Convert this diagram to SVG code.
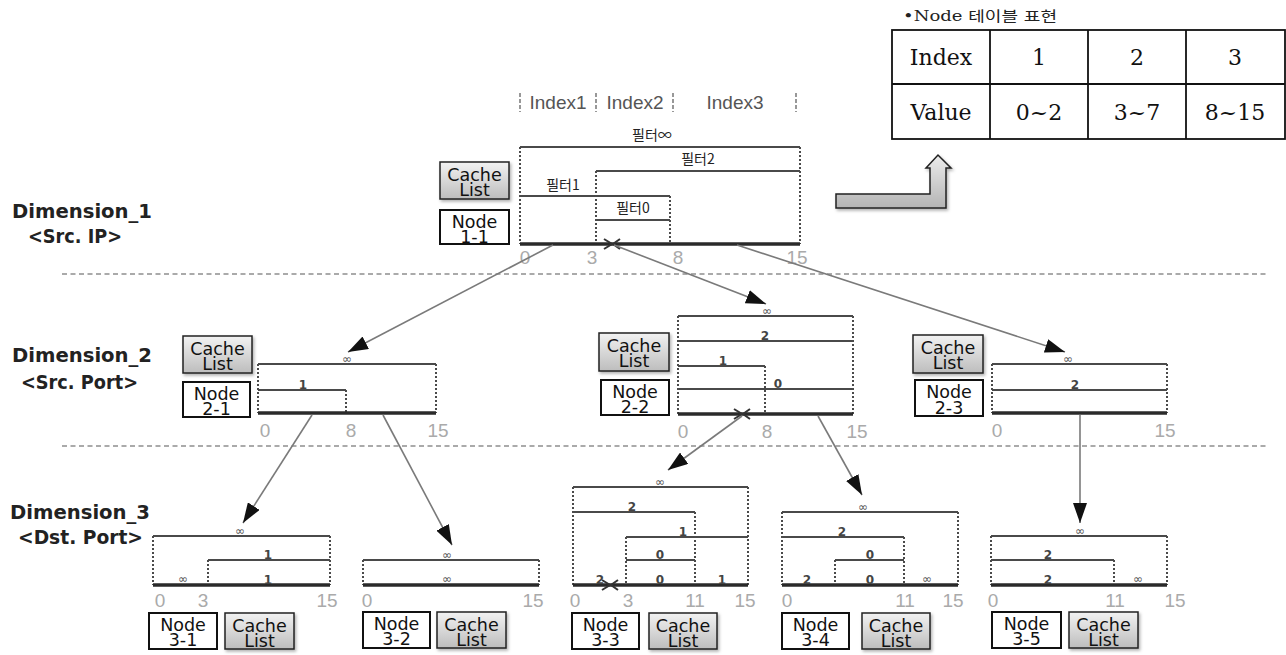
<svg xmlns="http://www.w3.org/2000/svg" width="1286" height="655" viewBox="0 0 1286 655">
<defs>
<linearGradient id="gc" x1="0" y1="0" x2="0" y2="1"><stop offset="0" stop-color="#f2f2f2"/><stop offset="1" stop-color="#bdbdbd"/></linearGradient>
<linearGradient id="ga" x1="0" y1="0" x2="0" y2="1"><stop offset="0" stop-color="#ececec"/><stop offset="1" stop-color="#b4b4b4"/></linearGradient>
<filter id="sh" x="-20%" y="-20%" width="140%" height="160%"><feDropShadow dx="1.5" dy="2" stdDeviation="1.5" flood-color="#000" flood-opacity="0.3"/></filter>
<marker id="ah" viewBox="0 0 20 14" refX="20" refY="7" markerWidth="20" markerHeight="14" markerUnits="userSpaceOnUse" orient="auto"><path d="M0,0 L20,7 L0,14 z" fill="#111"/></marker>
<style>
.hl{stroke:#4a4a4a;stroke-width:2;fill:none}
.base{stroke:#2a2a2a;stroke-width:3.5;fill:none}
.dot{stroke:#4a4a4a;stroke-width:2;stroke-dasharray:2 2;fill:none}
.ax{font-family:"Liberation Sans",Arial,sans-serif;font-size:19px;fill:#aaa;text-anchor:middle}
.lb{font-family:"DejaVu Sans",sans-serif;font-size:12px;fill:#444;text-anchor:middle;font-weight:bold}
.inf{font-family:"DejaVu Sans",sans-serif;font-size:12px;fill:#555;text-anchor:middle}
.kr{font-family:"Noto Sans CJK KR","Noto Sans",sans-serif;font-size:14px;fill:#222;text-anchor:middle}
.cache{fill:url(#gc);stroke:#222;stroke-width:1.5;filter:url(#sh)}
.node{fill:#fff;stroke:#111;stroke-width:2}
.bt{font-family:"DejaVu Sans",sans-serif;font-size:17.5px;fill:#111;text-anchor:middle}
.dim{font-family:"DejaVu Sans",sans-serif;font-size:19px;font-weight:bold;fill:#222}
.idx{font-family:"Liberation Sans",Arial,sans-serif;font-size:19px;fill:#555;text-anchor:middle}
.isep{stroke:#777;stroke-width:1.5;stroke-dasharray:4 2}
.tb{font-family:"DejaVu Serif",serif;font-size:22px;fill:#111;text-anchor:middle}
.tl{stroke:#111;stroke-width:1.8;fill:none}
.sep{stroke:#aaa;stroke-width:2;stroke-dasharray:5 3.5}
.conn{stroke:#7a7a7a;stroke-width:1.6;fill:none;marker-end:url(#ah)}
.xm{stroke:#333;stroke-width:2;fill:none}
</style>
</defs>
<rect width="1286" height="655" fill="#fff"/>

<g id="dimension-labels">
<text class="dim" x="12" y="218" textLength="140" lengthAdjust="spacingAndGlyphs">Dimension_1</text>
<text class="dim" x="28" y="243" textLength="94" lengthAdjust="spacingAndGlyphs">&lt;Src. IP&gt;</text>
<text class="dim" x="12" y="362" textLength="140" lengthAdjust="spacingAndGlyphs">Dimension_2</text>
<text class="dim" x="21" y="389" textLength="117" lengthAdjust="spacingAndGlyphs">&lt;Src. Port&gt;</text>
<text class="dim" x="10" y="519" textLength="140" lengthAdjust="spacingAndGlyphs">Dimension_3</text>
<text class="dim" x="18" y="544" textLength="125" lengthAdjust="spacingAndGlyphs">&lt;Dst. Port&gt;</text>
<line class="sep" x1="62" y1="274" x2="1266" y2="274"/>
<line class="sep" x1="62" y1="446" x2="1266" y2="446"/>
</g>

<g id="table">
<text x="903" y="21" font-family="DejaVu Serif,'Noto Sans CJK KR',serif" font-size="14" fill="#222" textLength="154" lengthAdjust="spacingAndGlyphs">•Node 테이블 표현</text>
<rect class="tl" x="892" y="30" width="393" height="109"/>
<line class="tl" x1="892" y1="84" x2="1285" y2="84"/>
<line class="tl" x1="990" y1="30" x2="990" y2="139"/>
<line class="tl" x1="1088" y1="30" x2="1088" y2="139"/>
<line class="tl" x1="1186" y1="30" x2="1186" y2="139"/>
<text class="tb" x="941" y="65">Index</text>
<text class="tb" x="1039" y="65">1</text>
<text class="tb" x="1137" y="65">2</text>
<text class="tb" x="1235" y="65">3</text>
<text class="tb" x="941" y="120">Value</text>
<text class="tb" x="1039" y="120">0~2</text>
<text class="tb" x="1137" y="120">3~7</text>
<text class="tb" x="1235" y="120">8~15</text>
</g>

<g id="bent-arrow">
<path d="M836,194 L930,194 L930,168 L926,168 L938,155 L951,168 L946,168 L946,208 L836,208 Z" fill="url(#ga)" stroke="#222" stroke-width="1.5" filter="url(#sh)"/>
</g>

<g id="index-header">
<line class="isep" x1="520" y1="93" x2="520" y2="112"/>
<line class="isep" x1="596" y1="93" x2="596" y2="112"/>
<line class="isep" x1="673" y1="93" x2="673" y2="112"/>
<line class="isep" x1="796" y1="93" x2="796" y2="112"/>
<text class="idx" x="558" y="109">Index1</text>
<text class="idx" x="635" y="109">Index2</text>
<text class="idx" x="735" y="109">Index3</text>
</g>

<g id="node1-1">
<rect class="cache" x="440" y="162" width="69" height="37"/>
<text class="bt" x="474.5" y="181">Cache</text><text class="bt" x="474.5" y="196">List</text>
<rect class="node" x="440" y="210" width="69" height="34"/>
<text class="bt" x="474.5" y="228">Node</text><text class="bt" x="474.5" y="243">1-1</text>
<line class="dot" x1="520" y1="147" x2="520" y2="244"/>
<line class="dot" x1="596" y1="171" x2="596" y2="244"/>
<line class="dot" x1="670" y1="196" x2="670" y2="244"/>
<line class="dot" x1="800" y1="147" x2="800" y2="244"/>
<line class="hl" x1="520" y1="147" x2="800" y2="147"/>
<line class="hl" x1="596" y1="171" x2="800" y2="171"/>
<line class="hl" x1="520" y1="196" x2="670" y2="196"/>
<line class="hl" x1="596" y1="220" x2="670" y2="220"/>
<line class="base" x1="520" y1="244" x2="800" y2="244"/>
<text class="kr" x="652" y="140">필터∞</text>
<text class="kr" x="698" y="164">필터2</text>
<text class="kr" x="563" y="190">필터1</text>
<text class="kr" x="633" y="213">필터0</text>
<path class="xm" d="M604,239 L612,244 L604,249 M620,239 L613,244 L620,249"/>
<text class="ax" x="525" y="264">0</text>
<text class="ax" x="592" y="264">3</text>
<text class="ax" x="678" y="264">8</text>
<text class="ax" x="797" y="264">15</text>
</g>

<g id="node2-1">
<rect class="cache" x="183" y="336" width="69" height="37"/>
<text class="bt" x="217.5" y="355">Cache</text><text class="bt" x="217.5" y="370">List</text>
<rect class="node" x="183" y="382" width="67" height="35"/>
<text class="bt" x="216.5" y="400">Node</text><text class="bt" x="216.5" y="415">2-1</text>
<line class="dot" x1="258" y1="364" x2="258" y2="413"/>
<line class="dot" x1="346" y1="390" x2="346" y2="413"/>
<line class="dot" x1="436" y1="364" x2="436" y2="413"/>
<line class="hl" x1="258" y1="364" x2="436" y2="364"/>
<line class="hl" x1="258" y1="390" x2="346" y2="390"/>
<line class="base" x1="258" y1="413" x2="436" y2="413"/>
<text class="inf" x="347" y="363">∞</text>
<text class="lb" x="303" y="389">1</text>
<text class="ax" x="265" y="437">0</text>
<text class="ax" x="351" y="437">8</text>
<text class="ax" x="438" y="437">15</text>
</g>

<g id="node2-2">
<rect class="cache" x="599" y="333" width="70" height="38"/>
<text class="bt" x="634" y="352">Cache</text><text class="bt" x="634" y="367">List</text>
<rect class="node" x="601" y="380" width="68" height="35"/>
<text class="bt" x="635" y="398">Node</text><text class="bt" x="635" y="413">2-2</text>
<line class="dot" x1="678" y1="316" x2="678" y2="414"/>
<line class="dot" x1="765" y1="366" x2="765" y2="414"/>
<line class="dot" x1="853" y1="316" x2="853" y2="414"/>
<line class="hl" x1="678" y1="316" x2="853" y2="316"/>
<line class="hl" x1="678" y1="341" x2="853" y2="341"/>
<line class="hl" x1="678" y1="366" x2="765" y2="366"/>
<line class="hl" x1="678" y1="389" x2="853" y2="389"/>
<line class="base" x1="678" y1="414" x2="853" y2="414"/>
<text class="inf" x="767" y="315">∞</text>
<text class="lb" x="765" y="340">2</text>
<text class="lb" x="723" y="365">1</text>
<text class="lb" x="778" y="388">0</text>
<path class="xm" d="M734,409 L742,414 L734,419 M750,409 L743,414 L750,419"/>
<text class="ax" x="683" y="438">0</text>
<text class="ax" x="767" y="438">8</text>
<text class="ax" x="857" y="438">15</text>
</g>

<g id="node2-3">
<rect class="cache" x="913" y="335" width="70" height="38"/>
<text class="bt" x="948" y="354">Cache</text><text class="bt" x="948" y="369">List</text>
<rect class="node" x="915" y="380" width="68" height="36"/>
<text class="bt" x="949" y="398">Node</text><text class="bt" x="949" y="414">2-3</text>
<line class="dot" x1="992" y1="364" x2="992" y2="413"/>
<line class="dot" x1="1167" y1="364" x2="1167" y2="413"/>
<line class="hl" x1="992" y1="364" x2="1167" y2="364"/>
<line class="hl" x1="992" y1="390" x2="1167" y2="390"/>
<line class="base" x1="992" y1="413" x2="1167" y2="413"/>
<text class="inf" x="1068" y="363">∞</text>
<text class="lb" x="1075" y="389">2</text>
<text class="ax" x="997" y="437">0</text>
<text class="ax" x="1165" y="437">15</text>
</g>

<g id="node3-1">
<line class="dot" x1="153" y1="536" x2="153" y2="585"/>
<line class="dot" x1="208" y1="560" x2="208" y2="585"/>
<line class="dot" x1="330" y1="536" x2="330" y2="585"/>
<line class="hl" x1="153" y1="536" x2="330" y2="536"/>
<line class="hl" x1="208" y1="560" x2="330" y2="560"/>
<line class="base" x1="153" y1="585" x2="330" y2="585"/>
<text class="inf" x="240" y="535">∞</text>
<text class="lb" x="268" y="559">1</text>
<text class="inf" x="183" y="583">∞</text>
<text class="lb" x="268" y="584">1</text>
<text class="ax" x="160" y="607">0</text>
<text class="ax" x="203" y="607">3</text>
<text class="ax" x="327" y="607">15</text>
<rect class="node" x="149" y="613" width="68" height="36"/>
<text class="bt" x="183" y="631">Node</text><text class="bt" x="183" y="646">3-1</text>
<rect class="cache" x="225" y="613" width="69" height="36"/>
<text class="bt" x="259.5" y="632">Cache</text><text class="bt" x="259.5" y="647">List</text>
</g>

<g id="node3-2">
<line class="dot" x1="363" y1="560" x2="363" y2="585"/>
<line class="dot" x1="539" y1="560" x2="539" y2="585"/>
<line class="hl" x1="363" y1="560" x2="539" y2="560"/>
<line class="base" x1="363" y1="585" x2="539" y2="585"/>
<text class="inf" x="447" y="559">∞</text>
<text class="inf" x="447" y="583">∞</text>
<text class="ax" x="367" y="607">0</text>
<text class="ax" x="533" y="607">15</text>
<rect class="node" x="363" y="612" width="67" height="36"/>
<text class="bt" x="396.5" y="630">Node</text><text class="bt" x="396.5" y="645">3-2</text>
<rect class="cache" x="437" y="612" width="69" height="36"/>
<text class="bt" x="471.5" y="631">Cache</text><text class="bt" x="471.5" y="646">List</text>
</g>

<g id="node3-3">
<line class="dot" x1="573" y1="487" x2="573" y2="585"/>
<line class="dot" x1="626" y1="537" x2="626" y2="585"/>
<line class="dot" x1="695" y1="512" x2="695" y2="585"/>
<line class="dot" x1="748" y1="487" x2="748" y2="585"/>
<line class="hl" x1="573" y1="487" x2="748" y2="487"/>
<line class="hl" x1="573" y1="512" x2="695" y2="512"/>
<line class="hl" x1="626" y1="537" x2="748" y2="537"/>
<line class="hl" x1="626" y1="560" x2="695" y2="560"/>
<line class="base" x1="573" y1="585" x2="748" y2="585"/>
<text class="inf" x="660" y="486">∞</text>
<text class="lb" x="632" y="511">2</text>
<text class="lb" x="683" y="536">1</text>
<text class="lb" x="660" y="559">0</text>
<text class="lb" x="600" y="584">2</text>
<text class="lb" x="660" y="584">0</text>
<text class="lb" x="722" y="584">1</text>
<path class="xm" d="M602,580 L610,585 L602,590 M618,580 L611,585 L618,590"/>
<text class="ax" x="575" y="607">0</text>
<text class="ax" x="628" y="607">3</text>
<text class="ax" x="695" y="607">11</text>
<text class="ax" x="745" y="607">15</text>
<rect class="node" x="572" y="613" width="67" height="36"/>
<text class="bt" x="605.5" y="631">Node</text><text class="bt" x="605.5" y="646">3-3</text>
<rect class="cache" x="649" y="613" width="68" height="36"/>
<text class="bt" x="683" y="632">Cache</text><text class="bt" x="683" y="647">List</text>
</g>

<g id="node3-4">
<line class="dot" x1="782" y1="512" x2="782" y2="585"/>
<line class="dot" x1="835" y1="560" x2="835" y2="585"/>
<line class="dot" x1="904" y1="537" x2="904" y2="585"/>
<line class="dot" x1="958" y1="512" x2="958" y2="585"/>
<line class="hl" x1="782" y1="512" x2="958" y2="512"/>
<line class="hl" x1="782" y1="537" x2="904" y2="537"/>
<line class="hl" x1="835" y1="560" x2="904" y2="560"/>
<line class="base" x1="782" y1="585" x2="958" y2="585"/>
<text class="inf" x="863" y="511">∞</text>
<text class="lb" x="842" y="536">2</text>
<text class="lb" x="870" y="559">0</text>
<text class="lb" x="807" y="584">2</text>
<text class="lb" x="870" y="584">0</text>
<text class="inf" x="927" y="583">∞</text>
<text class="ax" x="787" y="607">0</text>
<text class="ax" x="905" y="607">11</text>
<text class="ax" x="953" y="607">15</text>
<rect class="node" x="782" y="613" width="67" height="36"/>
<text class="bt" x="815.5" y="631">Node</text><text class="bt" x="815.5" y="646">3-4</text>
<rect class="cache" x="862" y="613" width="68" height="36"/>
<text class="bt" x="896" y="632">Cache</text><text class="bt" x="896" y="647">List</text>
</g>

<g id="node3-5">
<line class="dot" x1="991" y1="536" x2="991" y2="585"/>
<line class="dot" x1="1114" y1="560" x2="1114" y2="585"/>
<line class="dot" x1="1167" y1="536" x2="1167" y2="585"/>
<line class="hl" x1="991" y1="536" x2="1167" y2="536"/>
<line class="hl" x1="991" y1="560" x2="1114" y2="560"/>
<line class="base" x1="991" y1="585" x2="1167" y2="585"/>
<text class="inf" x="1080" y="535">∞</text>
<text class="lb" x="1048" y="559">2</text>
<text class="lb" x="1048" y="584">2</text>
<text class="inf" x="1138" y="583">∞</text>
<text class="ax" x="993" y="607">0</text>
<text class="ax" x="1115" y="607">11</text>
<text class="ax" x="1175" y="607">15</text>
<rect class="node" x="992" y="612" width="69" height="36"/>
<text class="bt" x="1026.5" y="630">Node</text><text class="bt" x="1026.5" y="645">3-5</text>
<rect class="cache" x="1069" y="612" width="69" height="36"/>
<text class="bt" x="1103.5" y="631">Cache</text><text class="bt" x="1103.5" y="646">List</text>
</g>

<g id="connectors">
<line class="conn" x1="553" y1="245" x2="348" y2="352"/>
<line class="conn" x1="614" y1="245" x2="766" y2="304"/>
<line class="conn" x1="737" y1="245" x2="1065" y2="352"/>
<line class="conn" x1="312" y1="415" x2="243" y2="523"/>
<line class="conn" x1="383" y1="415" x2="452" y2="545"/>
<line class="conn" x1="742" y1="416" x2="668" y2="470"/>
<line class="conn" x1="818" y1="416" x2="862" y2="495"/>
<line class="conn" x1="1080" y1="415" x2="1080" y2="523"/>
</g>
</svg>
